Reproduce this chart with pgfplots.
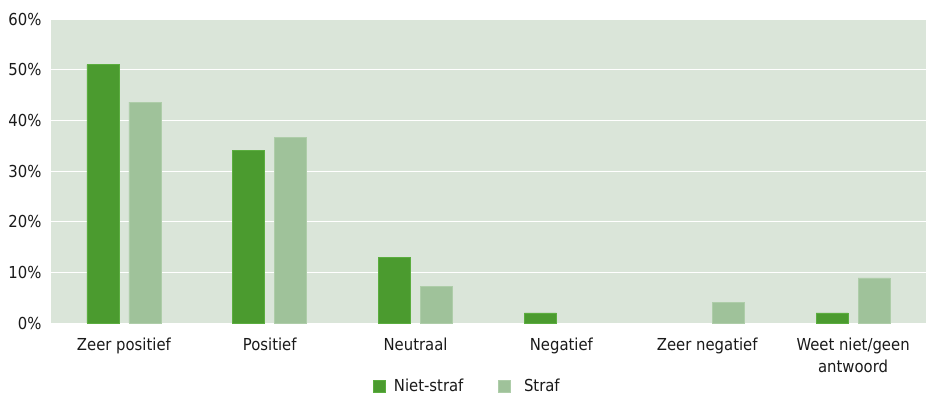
\documentclass[border=0pt]{standalone}
\usepackage{pgfplots}
\pgfplotsset{compat=1.18}
\usepackage{fontspec}
\setmainfont{DejaVu Sans Condensed}
\definecolor{bgc}{HTML}{DAE5D9}
\definecolor{darkg}{HTML}{4B9B2F}
\definecolor{darkedge}{HTML}{5BAD3F}
\definecolor{lightg}{HTML}{9FC29A}
\definecolor{lightedge}{HTML}{AECDA9}
\definecolor{txt}{HTML}{1A1A1A}
\begin{document}
\begin{tikzpicture}
\begin{axis}[
  scale only axis,
  width=875bp, height=304bp,
  xmin=-0.5, xmax=5.5, ymin=0, ymax=60,
  ybar, bar width=32bp,
  axis background/.style={fill=bgc},
  axis line style={draw=none},
  major tick length=0pt,
  ytick={0,10,...,60},
  yticklabel={\pgfmathprintnumber{\tick}\%},
  ymajorgrids, grid style={white, line width=1pt},
  xtick={0,...,5},
  xticklabels={Zeer positief, Positief, Neutraal, Negatief, Zeer negatief, {Weet niet/geen\\antwoord}},
  xticklabel style={align=center, font=\fontsize{16.5bp}{22bp}\selectfont, text=txt, yshift=-11bp},
  yticklabel style={font=\fontsize{16.5bp}{19bp}\selectfont, text=txt, xshift=-6bp},
  /pgf/number format/assume math mode=true,
  legend style={at={(0.476,-0.207)}, anchor=center, draw=none, fill=none,
    legend columns=2, font=\fontsize{16.5bp}{19bp}\selectfont, text=txt,
    /tikz/every even column/.append style={column sep=33bp}},
  legend image code/.code={\fill[#1] (0bp,-6bp) rectangle (12bp,6bp);},
]
\addplot[fill=darkg, draw=darkedge, line width=0.6pt, bar shift=-21bp] coordinates {(0,51.0) (1,34.1) (2,13.0) (3,2.0) (5,2.0)};
\addplot[fill=lightg, draw=lightedge, line width=0.6pt, bar shift=21bp] coordinates {(0,43.6) (1,36.7) (2,7.3) (4,4.1) (5,8.9)};
\legend{\hspace*{6bp}Niet-straf, \hspace*{11bp}Straf}
\end{axis}
\pgfresetboundingbox
\useasboundingbox (-51bp,-71bp) rectangle (875bp,323bp);
\end{tikzpicture}
\end{document}
